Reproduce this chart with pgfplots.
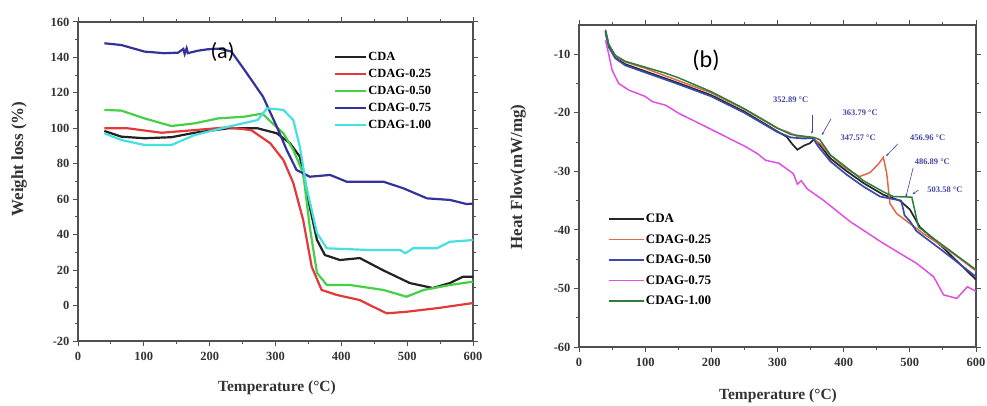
\documentclass[border=0pt]{standalone}
\usepackage{pgfplots}
\pgfplotsset{compat=1.18}
\usepackage{fontspec}
\setmainfont{Liberation Serif}
\newfontfamily\carlito{Carlito}
\usetikzlibrary{arrows.meta}
\definecolor{framegray}{HTML}{505050}
\definecolor{cblack}{HTML}{222222}
\definecolor{cred}{HTML}{E03A3A}
\definecolor{cgreen}{HTML}{45D045}
\definecolor{cblue}{HTML}{33339A}
\definecolor{ccyan}{HTML}{45E0E0}
\definecolor{rblack}{HTML}{262626}
\definecolor{rred}{HTML}{E0684A}
\definecolor{rblue}{HTML}{3A4AA8}
\definecolor{rmag}{HTML}{E050E0}
\definecolor{rgreen}{HTML}{2E7D3A}
\definecolor{annot}{HTML}{4545A5}
\pgfplotsset{
  common/.style={
    scale only axis,
    axis line style={line width=1.5pt, color=framegray},
    every tick/.style={line width=1pt, color=framegray},
    major tick length=5pt, minor tick length=3pt,
    tick align=outside,
    xtick={0,100,...,600}, minor x tick num=1, minor y tick num=1,
    xmin=0, xmax=600,
    /pgf/number format/assume math mode=true,
    tick label style={font=\fontsize{12.5}{13}\selectfont\bfseries, color=black!80},
    xticklabel style={yshift=-3pt},
    clip=true,
  }
}
\begin{document}
\begin{tikzpicture}[x=1pt,y=1pt]
\path[use as bounding box] (0,0) rectangle (987,405);
% ---------------- (a) ----------------
\begin{axis}[common,
  at={(78pt,64pt)}, anchor=south west, width=395pt, height=319pt,
  ymin=-20, ymax=160, ytick={-20,0,...,160},
  legend style={at={(0.648,0.918)}, anchor=north west, draw=none, fill=none,
    font=\fontsize{12.5}{13}\selectfont\bfseries, inner sep=0pt, row sep=0pt,
    nodes={inner sep=1pt, text height=11pt, text depth=4pt}},
  legend cell align=left,
  legend image code/.code={\draw[#1] (0pt,0pt) -- (31pt,0pt);},
]
\addplot[cblack, line width=2.2pt] coordinates {
(40,98.5)(66,95.3)(101,94.4)(142,95)(177,97.5)(228,100)(273,100)(302,97.2)(322,91.6)(337,84)(352,55.8)(363,37)(375,28.5)(398,25.7)(428,26.8)(463,20)(504,12.7)(539,9.9)(565,12.7)(585,16.3)(600,16.2)};
\addlegendentry{CDA}
\addplot[cred, line width=2.2pt] coordinates {
(40,100)(76,100)(127,97.5)(177,99)(228,100.6)(263,99)(292,91.6)(312,82.1)(327,69.2)(342,48.3)(355,21.9)(370,8.8)(393,6)(428,3.1)(448,-0.6)(469,-4.4)(499,-3.5)(545,-1.5)(598,1.3)(600,1.2)};
\addlegendentry{CDAG-0.25}
\addplot[cgreen, line width=2.2pt] coordinates {
(40,110.4)(66,110)(101,105.6)(142,101.3)(177,102.8)(213,105.6)(253,106.6)(280,108.3)(295,103)(312,97.2)(327,87.8)(342,74.8)(352,44.5)(363,18.4)(378,11.6)(413,11.6)(464,8.8)(499,5)(525,8.8)(565,11.6)(600,13.5)};
\addlegendentry{CDAG-0.50}
\addplot[cblue, line width=2.2pt] coordinates {
(40,148)(66,147)(101,143.3)(131,142.4)(152,142.7)(160,144.8)(162,142)(165,145.2)(167,142.4)(182,143.8)(197,144.6)(215,145)(233,143.3)(253,132.9)(281,117.9)(302,100.9)(317,87.8)(332,76.5)(352,72.7)(383,73.7)(408,69.9)(464,69.9)(494,66.2)(530,60.5)(565,59.6)(590,57.3)(600,57.5)};
\addlegendentry{CDAG-0.75}
\addplot[ccyan, line width=2.2pt] coordinates {
(40,97.2)(66,93.4)(101,90.6)(142,90.6)(177,96.2)(228,100.9)(273,104.7)(287,111.3)(312,110.4)(327,104.7)(337,89.6)(347,67)(363,40.9)(378,32.3)(439,31.4)(489,31.4)(497,29.5)(509,32.3)(545,32.3)(565,36)(598,36.9)(600,37)};
\addlegendentry{CDAG-1.00}
\end{axis}
% ---------------- (b) ----------------
\begin{axis}[common,
  at={(579pt,58pt)}, anchor=south west, width=397pt, height=322pt,
  ymin=-60, ymax=-5, ytick={-60,-50,...,-10},
  legend style={at={(0.073,0.43)}, anchor=north west, draw=none, fill=none,
    font=\fontsize{13}{14}\selectfont\bfseries, inner sep=0pt, row sep=0pt,
    nodes={inner sep=1pt, text height=13pt, text depth=5.5pt}},
  legend cell align=left,
  legend image code/.code={\draw[#1] (0pt,0pt) -- (35pt,0pt);},
]
\addplot[rblack, line width=1.7pt] coordinates {
(40,-6)(45,-8.6)(55,-10.6)(70,-11.7)(100,-12.9)(150,-14.9)(200,-17)(250,-19.8)(300,-23.2)(314,-24.1)(322,-25.3)(330,-26.3)(340,-25.6)(349,-25.2)(355,-24.5)(362,-25.2)(380,-27.8)(405,-30)(430,-32)(460,-34)(485,-35)(500,-36.5)(515,-39.5)(550,-43)(600,-48.5)};
\addlegendentry{CDA}
\addplot[rred, line width=1.5pt] coordinates {
(40,-6.2)(45,-8.5)(55,-10.3)(70,-11.3)(100,-12.4)(150,-14.5)(200,-16.6)(250,-19.4)(300,-22.7)(314,-23.2)(330,-24)(352,-24.3)(365,-25.3)(380,-27.3)(405,-29.6)(424,-30.9)(440,-30.2)(452,-28.8)(460,-27.6)(465,-30.3)(470,-35.5)(480,-37.2)(500,-38.9)(520,-40.6)(560,-43.6)(600,-47)};
\addlegendentry{CDAG-0.25}
\addplot[rblue, line width=1.7pt] coordinates {
(40,-6.3)(45,-8.8)(55,-10.7)(70,-11.9)(100,-13.1)(150,-15.1)(200,-17.2)(250,-20)(300,-23.3)(320,-24.2)(340,-24.4)(353,-24.3)(362,-25.8)(380,-28.3)(405,-30.6)(430,-32.6)(455,-34.3)(487,-35)(492,-37.5)(500,-38.5)(510,-40.2)(550,-43.6)(600,-48)};
\addlegendentry{CDAG-0.50}
\addplot[rmag, line width=1.5pt] coordinates {
(40,-7.6)(45,-10)(50,-12.7)(60,-15)(75,-16.1)(100,-17.2)(111,-18.1)(131,-18.7)(151,-20.1)(201,-22.9)(252,-25.8)(270,-27)(282,-28.1)(302,-28.6)(324,-30.4)(330,-32.2)(336,-31.6)(345,-33)(369,-34.9)(410,-38.6)(460,-42.3)(510,-45.7)(536,-48)(551,-51.1)(571,-51.7)(587,-49.7)(600,-50.5)};
\addlegendentry{CDAG-0.75}
\addplot[rgreen, line width=1.5pt] coordinates {
(40,-5.8)(45,-8.3)(55,-10.2)(70,-11.2)(100,-12.2)(130,-13.2)(150,-14)(200,-16.4)(250,-19.3)(300,-22.6)(320,-23.7)(340,-24)(355,-24.2)(364,-24.6)(380,-27.2)(405,-29.4)(430,-31.6)(460,-33.5)(475,-34.3)(503,-34.4)(513,-39.5)(540,-41.8)(570,-44.3)(600,-46.8)};
\addlegendentry{CDAG-1.00}
% annotations
\begin{scope}[annot, font=\fontsize{8.5}{9}\selectfont\bfseries]
\node at (axis cs:320,-17.8) {352.89 °C};
\node at (axis cs:425,-20) {363.79 °C};
\node at (axis cs:422,-24.3) {347.57 °C};
\node at (axis cs:527,-24.3) {456.96 °C};
\node at (axis cs:534,-28.4) {486.89 °C};
\node at (axis cs:553,-33.2) {503.58 °C};
\draw[line width=0.6pt, -{Stealth[length=3pt]}] (axis cs:352,-20.3) -- (axis cs:352,-23.6);
\draw[line width=0.6pt, -{Stealth[length=3pt]}] (axis cs:381,-21) -- (axis cs:367,-23.8);
\draw[line width=0.6pt, -{Stealth[length=3pt]}] (axis cs:482,-25.3) -- (axis cs:464,-27.4);
\draw[line width=0.6pt, -{Stealth[length=3pt]}] (axis cs:505,-29.4) -- (axis cs:494,-34.4);
\draw[line width=0.6pt, -{Stealth[length=3pt]}] (axis cs:513,-33.2) -- (axis cs:504,-33.9);
\end{scope}
\end{axis}
% labels
\node[font=\carlito\fontsize{22}{24}\selectfont] at (222.5,353) {(a)};
\node[font=\carlito\fontsize{24}{26}\selectfont] at (706,345) {(b)};
\node[font=\fontsize{15.5}{16}\selectfont\bfseries, color=black!80] at (277,17) {Temperature (°C)};
\node[font=\fontsize{15.5}{16}\selectfont\bfseries, color=black!80] at (778,9) {Temperature (°C)};
\node[font=\fontsize{17}{18}\selectfont\bfseries, color=black!80, rotate=90] at (19,246) {Weight loss (\%)};
\node[font=\fontsize{17}{18}\selectfont\bfseries, color=black!80, rotate=90] at (518,228) {Heat Flow(mW/mg)};
\end{tikzpicture}
\end{document}
